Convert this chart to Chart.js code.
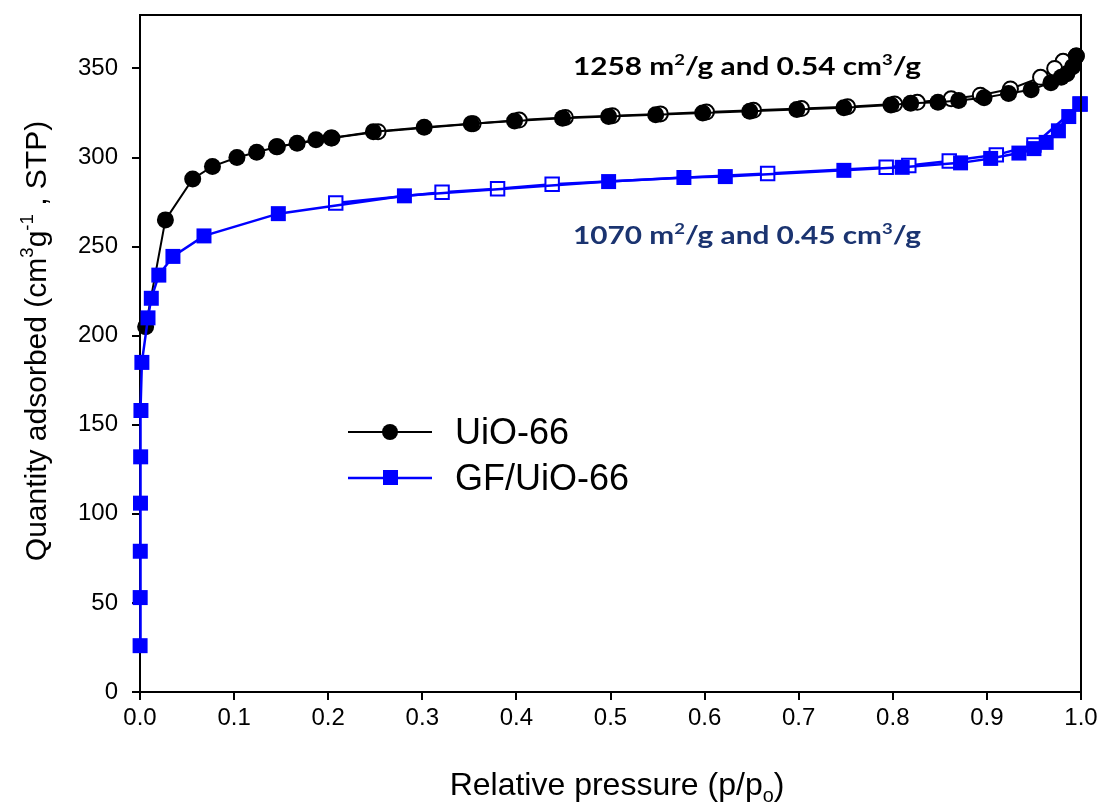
<!DOCTYPE html>
<html>
<head>
<meta charset="utf-8">
<script src="https://cdn.jsdelivr.net/npm/chart.js@4.4.1/dist/chart.umd.min.js"></script>
<style>
  html, body { margin: 0; padding: 0; background: #fff; }
  #wrap { width: 1103px; height: 809px; position: relative; }
</style>
</head>
<body>
<div id="wrap"><canvas id="chart"></canvas></div>
<script>
// axis ticks
const xTicks = [0, 0.1, 0.2, 0.3, 0.4, 0.5, 0.6, 0.7, 0.8, 0.9, 1.0];
const yTicks = [0, 50, 100, 150, 200, 250, 300, 350];

// UiO-66 adsorption (filled) / desorption (open)
const uioAdsP = [0.006, 0.027, 0.056, 0.077, 0.103, 0.124, 0.146, 0.167, 0.187, 0.203, 0.248, 0.302, 0.352, 0.398, 0.449, 0.498, 0.548, 0.598, 0.648, 0.698, 0.748, 0.798, 0.819, 0.848, 0.870, 0.897, 0.923, 0.947, 0.968, 0.979, 0.985, 0.991, 0.995];
const uioAdsQ = [205, 265, 288, 295, 300, 303, 306, 308, 310, 311, 314.5, 317, 319, 320.5, 322, 323, 324, 325, 326, 327, 328, 329.5, 330.5, 331, 332, 333.5, 336, 338, 342, 345, 347, 351, 357];
const uioDesP = [0.995, 0.981, 0.972, 0.957, 0.925, 0.893, 0.862, 0.826, 0.802, 0.752, 0.703, 0.652, 0.602, 0.553, 0.502, 0.452, 0.403, 0.354, 0.253, 0.204, 0.145];
const uioDesQ = [357, 354, 350, 345, 338.5, 335, 333, 331, 330, 328.5, 327.5, 326.5, 325.5, 324.5, 323.5, 322.5, 321, 319, 314.5, 311, 306];

// GF/UiO-66 adsorption (filled) / desorption (open)
const gfAdsP = [0.0001, 0.0002, 0.0003, 0.0005, 0.0007, 0.001, 0.002, 0.0085, 0.012, 0.02, 0.035, 0.068, 0.147, 0.281, 0.498, 0.578, 0.622, 0.748, 0.81, 0.872, 0.904, 0.934, 0.95, 0.963, 0.976, 0.987, 0.999];
const gfAdsQ = [26, 53, 79, 106, 132, 158, 185, 210, 221, 234, 244.5, 256, 268.5, 278.5, 286.5, 288.8, 289.3, 292.8, 294.5, 297, 299.5, 302.5, 305, 308.5, 315, 323, 330];
const gfDesP = [0.999, 0.95, 0.91, 0.86, 0.817, 0.793, 0.667, 0.438, 0.38, 0.321, 0.208];
const gfDesQ = [330, 307, 301.5, 298, 295.5, 294.5, 291, 285, 282.5, 280.5, 274.5];

const pts = (p, q) => p.map((v, i) => ({ x: v, y: q[i] }));

const BLUE = '#0000ff';
const NAVY = '#1b3470';
const SANS = "'Liberation Sans', Arial, sans-serif";

function richWidth(ctx, segs, size, family, weight) {
  let w = 0;
  segs.forEach(s => {
    const sz = s.sup || s.sub ? size * 0.62 : size;
    ctx.font = `${weight} ${sz}px ${family}`;
    w += ctx.measureText(s.t).width;
  });
  return w;
}
function drawRich(ctx, segs, x, y, size, family, weight, color) {
  ctx.fillStyle = color;
  ctx.textBaseline = 'alphabetic';
  ctx.textAlign = 'left';
  segs.forEach(s => {
    const sz = s.sup || s.sub ? size * 0.62 : size;
    ctx.font = `${weight} ${sz}px ${family}`;
    const dy = s.sup ? -size * 0.42 : s.sub ? size * 0.22 : 0;
    ctx.fillText(s.t, x, y + dy);
    x += ctx.measureText(s.t).width;
  });
}

const extras = {
  id: 'extras',
  afterDraw(chart) {
    const { ctx, chartArea: a } = chart;
    ctx.save();
    // top & right frame
    ctx.strokeStyle = '#000';
    ctx.lineWidth = 2;
    ctx.beginPath();
    ctx.moveTo(a.left, a.top); ctx.lineTo(a.right, a.top); ctx.lineTo(a.right, a.bottom);
    ctx.stroke();

    // y title
    const yt = [{ t: 'Quantity adsorbed (cm' }, { t: '3', sup: 1 }, { t: 'g' }, { t: '-1', sup: 1 }, { t: ' , STP)' }];
    const yw = richWidth(ctx, yt, 30, SANS, 'normal');
    ctx.save();
    ctx.translate(46, 341);
    ctx.rotate(-Math.PI / 2);
    drawRich(ctx, yt, -yw / 2, 0, 30, SANS, 'normal', '#000');
    ctx.restore();

    // x title
    const xt = [{ t: 'Relative pressure (p/p' }, { t: 'o', sub: 1 }, { t: ')' }];
    const xw = richWidth(ctx, xt, 32, SANS, 'normal');
    drawRich(ctx, xt, 617 - xw / 2, 795, 32, SANS, 'normal', '#000');

    // legend
    ctx.lineWidth = 2;
    ctx.strokeStyle = '#000';
    ctx.beginPath(); ctx.moveTo(348, 432); ctx.lineTo(432, 432); ctx.stroke();
    ctx.fillStyle = '#000';
    ctx.beginPath(); ctx.arc(390, 432, 8, 0, Math.PI * 2); ctx.fill();
    ctx.strokeStyle = BLUE;
    ctx.lineWidth = 2.5;
    ctx.beginPath(); ctx.moveTo(348, 478); ctx.lineTo(432, 478); ctx.stroke();
    ctx.fillStyle = BLUE;
    ctx.fillRect(383, 470, 15, 15);
    ctx.fillStyle = '#000';
    ctx.font = `36px ${SANS}`;
    ctx.textBaseline = 'middle';
    ctx.fillText('UiO-66', 455, 434);
    ctx.fillText('GF/UiO-66', 455, 480);

    // annotations
    const fam = "Lato, 'Open Sans', sans-serif";
    const a1 = [{ t: '1258 m' }, { t: '2', sup: 1 }, { t: '/g and 0.54 cm' }, { t: '3', sup: 1 }, { t: '/g' }];
    const a2 = [{ t: '1070 m' }, { t: '2', sup: 1 }, { t: '/g and 0.45 cm' }, { t: '3', sup: 1 }, { t: '/g' }];
    [[a1, 75, '#000'], [a2, 244, NAVY]].forEach(([segs, by, col]) => {
      const w = richWidth(ctx, segs, 25, fam, 'bold');
      ctx.save();
      ctx.translate(573, by);
      ctx.scale(348 / w, 1);
      drawRich(ctx, segs, 0, 0, 25, fam, 'bold', col);
      ctx.restore();
    });
    ctx.restore();
  }
};

new Chart(document.getElementById('chart'), {
  type: 'scatter',
  data: {
    datasets: [
      { label: 'GF/UiO-66', data: pts(gfAdsP, gfAdsQ), showLine: true, borderColor: BLUE, borderWidth: 2.5,
        pointStyle: 'rect', pointRadius: 10.6, pointBackgroundColor: BLUE, pointBorderColor: BLUE, pointBorderWidth: 0, clip: false },
      { label: 'GF/UiO-66 des', data: pts(gfDesP, gfDesQ), showLine: true, borderColor: BLUE, borderWidth: 2.5,
        pointStyle: 'rect', pointRadius: 9.5, pointBackgroundColor: '#fff', pointBorderColor: BLUE, pointBorderWidth: 2, clip: false },
      { label: 'UiO-66', data: pts(uioAdsP, uioAdsQ), showLine: true, borderColor: '#000', borderWidth: 2,
        pointStyle: 'circle', pointRadius: 8.5, pointBackgroundColor: '#000', pointBorderColor: '#000', pointBorderWidth: 0, clip: false },
      { label: 'UiO-66 des', data: pts(uioDesP, uioDesQ), showLine: true, borderColor: '#000', borderWidth: 2,
        pointStyle: 'circle', pointRadius: 7.5, pointBackgroundColor: '#fff', pointBorderColor: '#000', pointBorderWidth: 2, clip: false }
    ]
  },
  options: {
    responsive: true,
    maintainAspectRatio: false,
    animation: false,
    layout: { padding: { top: 15, right: 22, left: 0, bottom: 0 } },
    plugins: { legend: { display: false }, tooltip: { enabled: false } },
    elements: { line: { tension: 0 } },
    scales: {
      x: {
        type: 'linear', min: 0, max: 1,
        afterBuildTicks: s => { s.ticks = xTicks.map(v => ({ value: v })); },
        afterFit: s => { s.height = 117; s.paddingLeft = 0; s.paddingRight = 0; },
        border: { color: '#000', width: 2 },
        grid: { drawOnChartArea: false, drawTicks: true, tickLength: 8, tickColor: '#000', lineWidth: 2 },
        ticks: { color: '#000', padding: 4, maxRotation: 0, font: { family: SANS, size: 24 },
                 callback: v => v.toFixed(1) }
      },
      y: {
        type: 'linear', min: 0, max: 380,
        afterBuildTicks: s => { s.ticks = yTicks.map(v => ({ value: v })); },
        afterFit: s => { s.width = 140; s.paddingTop = 0; s.paddingBottom = 0; },
        border: { color: '#000', width: 2 },
        grid: { drawOnChartArea: false, drawTicks: true, tickLength: 8, tickColor: '#000', lineWidth: 2 },
        ticks: { color: '#000', padding: 14, font: { family: SANS, size: 24 } }
      }
    }
  },
  plugins: [extras]
});
</script>
</body>
</html>
